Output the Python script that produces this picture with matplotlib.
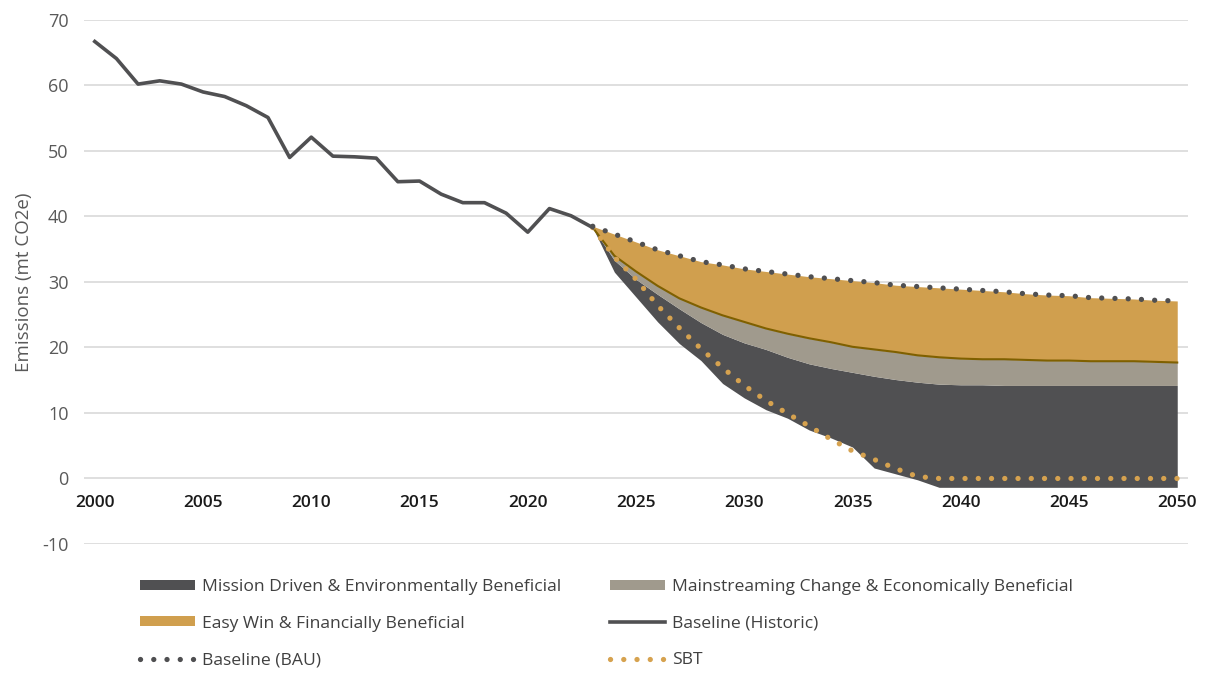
import matplotlib.pyplot as plt
from matplotlib.patches import Patch
from matplotlib.lines import Line2D

# historic emissions (mt CO2e)
hist_years = list(range(2000, 2024))
hist_emissions = [66.7, 64.1, 60.2, 60.7, 60.2, 59.0, 58.3, 56.9, 55.1, 49.0,
                  52.1, 49.2, 49.1, 48.9, 45.3, 45.4, 43.4, 42.1, 42.1, 40.5,
                  37.6, 41.2, 40.1, 38.3]

# projections 2023-2050
proj_years = list(range(2023, 2051))
area_base = [38.3, 31.5, 27.7, 23.9, 20.6, 18.0, 14.5, 12.3, 10.5, 9.2,
             7.4, 6.2, 4.8, 1.6, 0.7, -0.2, -1.35, -1.35, -1.35, -1.35,
             -1.35, -1.35, -1.35, -1.35, -1.35, -1.35, -1.35, -1.35]
mission_top = [38.3, 33.3, 30.4, 28.1, 25.9, 23.8, 22.0, 20.7, 19.7, 18.5,
               17.5, 16.8, 16.2, 15.6, 15.1, 14.7, 14.4, 14.3, 14.3, 14.2,
               14.2, 14.2, 14.2, 14.2, 14.2, 14.2, 14.2, 14.2]
mainstream_top = [38.3, 34.0, 31.6, 29.4, 27.5, 26.1, 24.9, 23.9, 22.9, 22.1,
                  21.4, 20.8, 20.1, 19.7, 19.3, 18.8, 18.5, 18.3, 18.2, 18.2,
                  18.1, 18.0, 18.0, 17.9, 17.9, 17.9, 17.8, 17.7]
bau = [38.5, 37.3, 36.1, 34.9, 34.0, 33.1, 32.6, 32.0, 31.6, 31.2,
       30.8, 30.5, 30.2, 29.9, 29.5, 29.3, 29.1, 28.9, 28.7, 28.5,
       28.2, 28.0, 27.9, 27.6, 27.5, 27.4, 27.2, 27.1]
sbt = [38.3, 33.8, 30.4, 26.4, 23.0, 19.8, 16.9, 14.2, 11.9, 9.9,
       8.0, 6.0, 4.2, 2.9, 1.5, 0.3, 0, 0, 0, 0,
       0, 0, 0, 0, 0, 0, 0, 0]

x_ticks = list(range(2000, 2051, 5))
y_ticks = list(range(-10, 71, 10))

DARK = "#505052"
GREY = "#A09A8D"
GOLD = "#D09F4E"
OLIVE = "#7F6000"
TEXT = "#595959"

plt.rcParams["font.family"] = ["Open Sans", "DejaVu Sans"]
plt.rcParams["axes.unicode_minus"] = False

fig = plt.figure(figsize=(12.08, 6.86), dpi=100)
ax = fig.add_axes([0.0695, 0.207, 0.914, 0.764])

ax.fill_between(proj_years, area_base, mission_top, color=DARK, lw=0, zorder=2)
ax.fill_between(proj_years, mission_top, mainstream_top, color=GREY, lw=0, zorder=2)
ax.fill_between(proj_years, mainstream_top, bau, color=GOLD, lw=0, zorder=2)
ax.plot(proj_years, mainstream_top, color=OLIVE, lw=1.5, zorder=3)

dots = (0, (0.01, 2.5))
ax.plot(proj_years, sbt, color="#D6A24F", lw=3.8, linestyle=dots,
        dash_capstyle="round", zorder=4)
ax.plot(proj_years, bau, color="#4F4F51", lw=3.8, linestyle=dots,
        dash_capstyle="round", zorder=4)
ax.plot(hist_years, hist_emissions, color=DARK, lw=2.6, zorder=5)

ax.set_xlim(1999.5, 2050.5)
ax.set_ylim(-10, 70)
ax.set_yticks(y_ticks)
ax.set_xticks(x_ticks)
ax.grid(axis="y", color="#D9D9D9", lw=1.2, zorder=0)
ax.set_axisbelow(True)
for side in ["top", "right", "left"]:
    ax.spines[side].set_visible(False)
ax.spines["bottom"].set_position(("data", 0))
ax.spines["bottom"].set_visible(False)
ax.tick_params(axis="y", length=0, pad=11, labelsize=13, labelcolor=TEXT)
ax.tick_params(axis="x", length=0, pad=12, labelsize=12.5, labelcolor="#1A1A1A")
for lbl in ax.get_xticklabels():
    lbl.set_fontweight("semibold")
ax.set_ylabel("Emissions (mt CO2e)", fontsize=13.5, color=TEXT, labelpad=7)

handles = [
    Patch(facecolor=DARK, label="Mission Driven & Environmentally Beneficial"),
    Patch(facecolor=GOLD, label="Easy Win & Financially Beneficial"),
    Line2D([], [], color="#4F4F51", lw=3.8, linestyle=dots,
           dash_capstyle="round", label="Baseline (BAU)"),
    Patch(facecolor=GREY, label="Mainstreaming Change & Economically Beneficial"),
    Line2D([], [], color=DARK, lw=2.6, label="Baseline (Historic)"),
    Line2D([], [], color="#D6A24F", lw=3.8, linestyle=dots,
           dash_capstyle="round", label="SBT"),
]
leg = fig.legend(handles=handles, ncol=2, loc="upper left",
                 bbox_to_anchor=(0.103, 0.179), frameon=False,
                 fontsize=12.6, handlelength=3.14, handleheight=0.51,
                 handletextpad=0.4, labelspacing=1.18, columnspacing=2.8)
for t in leg.get_texts():
    t.set_color("#404040")

fig.savefig("out.png", dpi=100)
